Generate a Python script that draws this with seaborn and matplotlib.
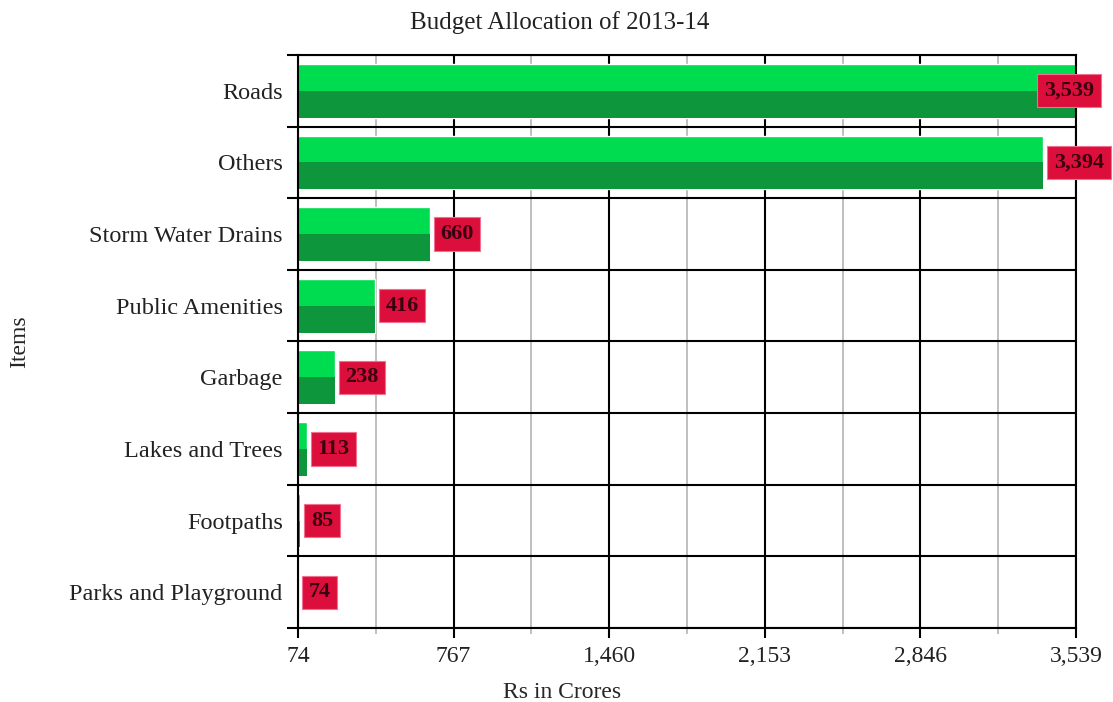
import pandas as pd
import seaborn as sns
import matplotlib.pyplot as plt
from matplotlib.patches import Rectangle
from matplotlib.ticker import FixedLocator

# Dados do gráfico
items = ["Roads", "Others", "Storm Water Drains", "Public Amenities",
         "Garbage", "Lakes and Trees", "Footpaths", "Parks and Playground"]
amounts = [3539, 3394, 660, 416, 238, 113, 85, 74]
xticks = [74, 767, 1460, 2153, 2846, 3539]

df = pd.DataFrame({"Items": items, "Amount": amounts})

sns.set_style("white")
plt.rcParams['font.family'] = ['Liberation Serif', 'DejaVu Serif']
plt.rcParams['text.color'] = '#222222'

light_green = "#00DC50"
dark_green = "#0E963C"

fig = plt.figure(figsize=(11.13, 7.02), dpi=100)
ax = fig.add_axes([0.2677, 0.1054, 0.6991, 0.8163])

sns.barplot(data=df, x="Amount", y="Items", orient="h", color=light_green,
            saturation=1, width=0.75, ax=ax, zorder=2)

# metade inferior mais escura
for p in list(ax.patches):
    y0, h = p.get_y(), p.get_height()
    ax.add_patch(Rectangle((p.get_x(), y0 + h / 2), p.get_width(), h / 2,
                           facecolor=dark_green, edgecolor="none", zorder=2))

ax.set_xlim(xticks[0], xticks[-1])
ax.set_ylim(len(items) - 0.5, -0.5)

# grade
ax.xaxis.set_major_locator(FixedLocator(xticks))
mids = [(a + b) / 2 for a, b in zip(xticks[:-1], xticks[1:])]
ax.xaxis.set_minor_locator(FixedLocator(mids))
ax.set_xticklabels([f"{v:,}" for v in xticks])
ax.yaxis.set_minor_locator(FixedLocator([i - 0.5 for i in range(len(items) + 1)]))

ax.grid(which="major", axis="x", color="black", linewidth=1.5, zorder=0)
ax.grid(which="minor", axis="x", color="#b4b4b4", linewidth=1.2, zorder=0)
ax.grid(which="minor", axis="y", color="black", linewidth=1.5, zorder=0)
ax.grid(which="major", axis="y", visible=False)
ax.set_axisbelow(True)

for s in ax.spines.values():
    s.set_visible(True)
    s.set_color("black")
    s.set_linewidth(1.5)

ax.tick_params(axis="x", which="major", length=7, width=1.5, color="black",
               pad=6, labelsize=17, labelcolor="#222222", bottom=True)
ax.tick_params(axis="x", which="minor", length=4, width=1.2, color="#b4b4b4", bottom=True)
ax.tick_params(axis="y", which="major", length=0, pad=11, labelsize=17.5,
               labelcolor="#222222")
ax.tick_params(axis="y", which="minor", length=8, width=1.5, color="black", left=True)

# rótulos de valor
fs = 16
pad_px = 0.3 * fs * 100 / 72
for i, v in enumerate(amounts):
    off_px = -39 if v == max(amounts) else 4
    ax.annotate(f"{v:,}", xy=(max(v, xticks[0]), i),
                xytext=((off_px + pad_px) * 0.72, 0),
                textcoords="offset points", ha="left", va="center",
                fontsize=fs, fontweight="bold", color="#3a0010", zorder=5,
                bbox=dict(boxstyle="square,pad=0.3", facecolor="#DC0F3C",
                          edgecolor="#f07090", linewidth=0.8),
                annotation_clip=False)

fig.suptitle("Budget Allocation of 2013-14", fontsize=18, x=0.503, y=0.985)
ax.set_xlabel("Rs in Crores", fontsize=17, labelpad=14)
ax.xaxis.set_label_coords((562 - 298) / 778, -0.095)
ax.set_ylabel("Items", fontsize=17)
ax.yaxis.set_label_coords(-0.344, 0.5)

fig.savefig("out.png", dpi=100)
